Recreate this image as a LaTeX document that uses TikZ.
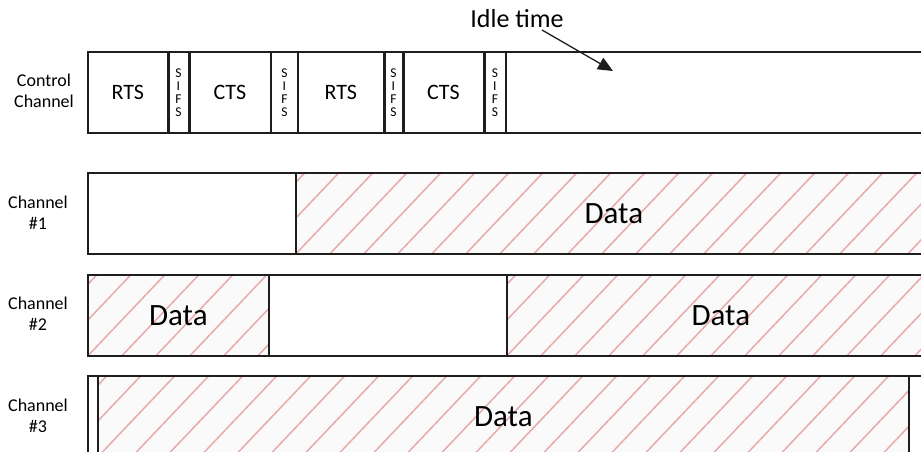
\documentclass[tikz,border=0pt]{standalone}
\usepackage{fontspec}
\setmainfont{Carlito}
\usetikzlibrary{arrows.meta}
\definecolor{hatchcol}{RGB}{232,170,170}
\definecolor{edge}{RGB}{30,30,30}
\begin{document}
\begin{tikzpicture}[x=1pt,y=-1pt,
  blk/.style={draw=edge, line width=1.7pt, inner sep=0pt, minimum height=81pt,
    anchor=north west, fill=white, font=\fontsize{22}{26}\selectfont},
  sifs/.style={blk, align=center, font=\fontsize{13.5}{13}\selectfont},
  hatch/.style={blk, fill=black!2, font=\fontsize{31}{36}\selectfont,
    path picture={\foreach \k in {-4,...,26}{\draw[hatchcol, line width=1.5pt]
      ([xshift=\k*34pt]path picture bounding box.south west) -- ++(95,-100);}}},
  thicksep/.style={draw=edge, line width=3.2pt},
  lab/.style={align=center, font=\fontsize{18}{21}\selectfont}]
\useasboundingbox (0,0) rectangle (921,452);
\clip (0,0) rectangle (921,452);

% control channel
\node[blk, minimum width=80pt] (rts1) at (87,51) {RTS};
\node[sifs, minimum width=21pt] (s1) at (167,51) {S\\I\\F\\S};
\node[blk, minimum width=82pt] (cts1) at (188,51) {CTS};
\node[sifs, minimum width=27pt] (s2) at (270,51) {S\\I\\F\\S};
\node[blk, minimum width=86pt] (rts2) at (297,51) {RTS};
\node[sifs, minimum width=19pt] (s3) at (383,51) {S\\I\\F\\S};
\node[blk, minimum width=81pt] (cts2) at (402,51) {CTS};
\node[sifs, minimum width=22pt] (s4) at (483,51) {S\\I\\F\\S};
\node[blk, minimum width=430pt] (idlebox) at (505,51) {};
\draw[thicksep] (rts1.north east) -- (rts1.south east);
\draw[thicksep] (s1.north east) -- (s1.south east);
\draw[thicksep] (rts2.north east) -- (rts2.south east);
\draw[thicksep] (s3.north east) -- (s3.south east);
\draw[thicksep] (cts2.north east) -- (cts2.south east);

% channel 1
\node[blk, minimum width=208pt] (w1) at (87,172) {};
\node[hatch, minimum width=636pt] (d1) at (295,172) {Data};

% channel 2
\node[hatch, minimum width=181pt] (d2a) at (87,274) {Data};
\node[blk, minimum width=238pt] (w2) at (268,274) {};
\node[hatch, minimum width=428pt] (d2b) at (506,274) {Data};

% channel 3
\node[blk, minimum width=10pt] (w3a) at (87,375) {};
\node[hatch, minimum width=811pt] (d3) at (97,375) {Data};
\node[blk, minimum width=30pt] (w3b) at (908,375) {};

% labels
\node[lab] (lc) at (44,91) {Control\\Channel};
\node[lab] (l1) at (38,213) {Channel\\\#1};
\node[lab] (l2) at (38,314) {Channel\\\#2};
\node[lab] (l3) at (38,416) {Channel\\\#3};

% idle time
\node[font=\fontsize{26}{30}\selectfont] (idle) at (517,19) {Idle time};
\coordinate (astart) at (542,30);
\coordinate (atip) at (613,71);
\draw[edge, line width=1.3pt, -{Triangle[length=15pt,width=13pt]}] (astart) -- (atip);
\end{tikzpicture}
\end{document}
